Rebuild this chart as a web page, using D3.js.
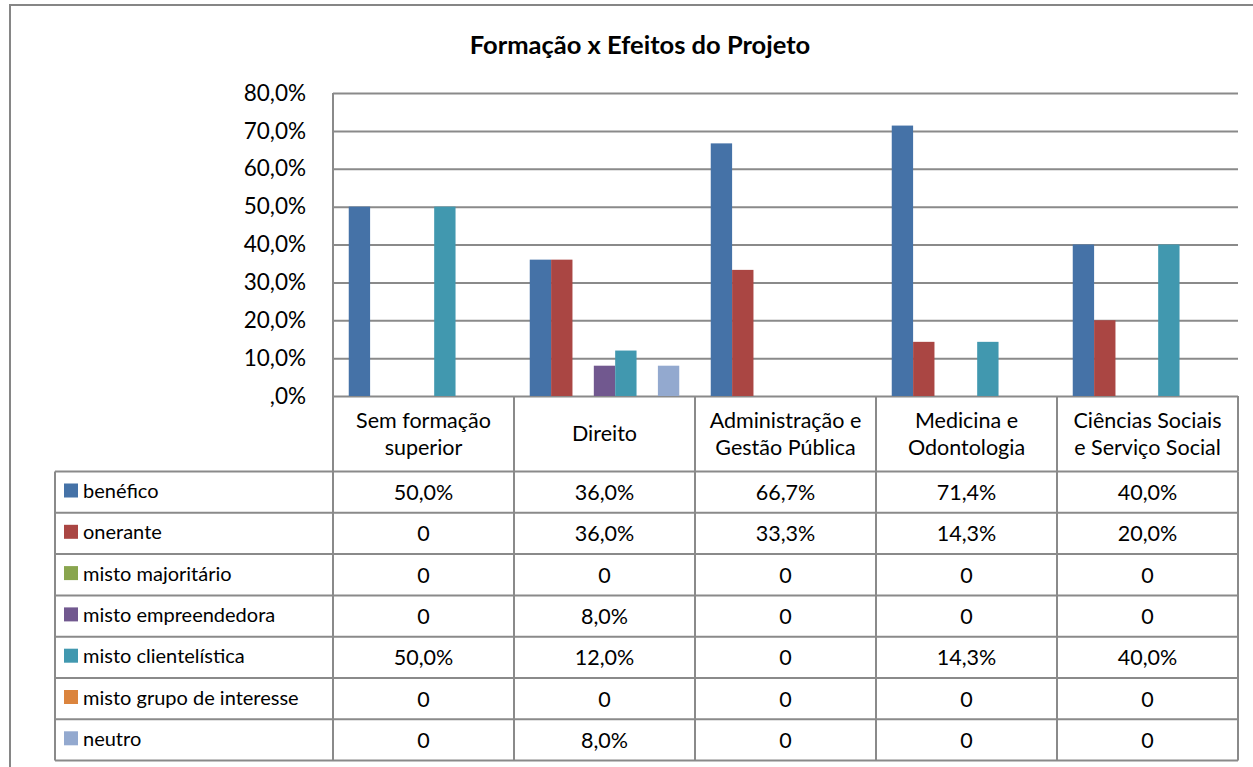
<!DOCTYPE html>
<html>
<head>
<meta charset="utf-8">
<script src="https://cdn.jsdelivr.net/npm/d3@7"></script>
<style>
  body { margin: 0; background: #fff; }
  svg text { font-family: Lato, "Open Sans", sans-serif; fill: #000; }
</style>
</head>
<body>
<div id="chart"></div>
<script>

// dados do gráfico
let categories = ["Sem formação superior", "Direito", "Administração e Gestão Pública", "Medicina e Odontologia", "Ciências Sociais e Serviço Social"];
let categoryLines = [["Sem formação", "superior"], ["Direito"], ["Administração e", "Gestão Pública"], ["Medicina e", "Odontologia"], ["Ciências Sociais", "e Serviço Social"]];
let seriesNames = ["benéfico", "onerante", "misto majoritário", "misto empreendedora", "misto clientelística", "misto grupo de interesse", "neutro"];
let seriesColors = ["#4572a7", "#aa4643", "#89a54e", "#71588f", "#4198af", "#db843d", "#93a9cf"];

let benefico       = [50.0, 36.0, 66.7, 71.4, 40.0];
let onerante       = [0, 36.0, 33.3, 14.3, 20.0];
let majoritario    = [0, 0, 0, 0, 0];
let empreendedora  = [0, 8.0, 0, 0, 0];
let clientelistica = [50.0, 12.0, 0, 14.3, 40.0];
let grupoInteresse = [0, 0, 0, 0, 0];
let neutro         = [0, 8.0, 0, 0, 0];

let seriesValues = [benefico, onerante, majoritario, empreendedora, clientelistica, grupoInteresse, neutro];
let yTicks = [0, 10, 20, 30, 40, 50, 60, 70, 80];

///////////////////////////////////////////////////////////////////////

let width = 1253, height = 767;
let plotLeft = 333, plotRight = 1238, plotTop = 93, plotBottom = 396;
let tableLeft = 55, headerBottom = 471.5, rowH = 41.3;
let lineColor = "#8a8a8a";

let svg = d3.select("#chart")
            .append("svg")
            .attr("width", width)
            .attr("height", height);

// moldura externa
svg.append("rect")
   .attr("x", 10).attr("y", 5)
   .attr("width", width + 20).attr("height", height + 20)
   .attr("fill", "none")
   .attr("stroke", "#868686")
   .attr("stroke-width", 2);

svg.append("text")
   .attr("x", 640).attr("y", 54)
   .attr("text-anchor", "middle")
   .attr("font-size", 25.5)
   .attr("font-weight", "bold")
   .text("Formação x Efeitos do Projeto");

let x = d3.scaleBand().domain(categories).range([plotLeft, plotRight]);
let gap = 31.5;
let xs = d3.scaleBand().domain(seriesNames).range([gap / 2, x.bandwidth() - gap / 2]);
let y = d3.scaleLinear().domain([0, 80]).range([plotBottom, plotTop]);

let fmtPct = v => (v === 0 ? "" : d3.format(".1f")(v).replace(".", ",")) + (v === 0 ? ",0%" : "%");

// eixo y + grade
let yAxis = svg.append("g")
   .attr("transform", `translate(${plotLeft},0)`)
   .call(d3.axisLeft(y).tickValues(yTicks).tickSize(-(plotRight - plotLeft)).tickPadding(27).tickFormat(fmtPct));
yAxis.select(".domain").remove();
yAxis.selectAll(".tick line").attr("stroke", lineColor).attr("stroke-width", 2);
yAxis.selectAll(".tick text").attr("font-size", 22.5).attr("font-family", "Lato, sans-serif").attr("fill", "#000");

svg.append("line")
   .attr("x1", plotLeft).attr("x2", plotLeft)
   .attr("y1", plotTop).attr("y2", plotBottom)
   .attr("stroke", lineColor).attr("stroke-width", 2);

// barras
let bars = [];
seriesValues.forEach((vals, s) => {
  vals.forEach((v, c) => bars.push({ s: s, c: c, v: v }));
});

svg.append("g").selectAll("rect")
   .data(bars.filter(d => d.v > 0))
   .join("rect")
   .attr("x", d => x(categories[d.c]) + xs(seriesNames[d.s]))
   .attr("width", xs.bandwidth())
   .attr("y", d => y(d.v))
   .attr("height", d => y(0) - y(d.v))
   .attr("fill", d => seriesColors[d.s]);

// tabela de dados
let table = svg.append("g");
let colEdges = [tableLeft, plotLeft].concat(categories.map(c => x(c) + x.bandwidth()));
let tableBottom = headerBottom + rowH * seriesNames.length;

// linhas verticais do cabeçalho
categories.forEach(c => {
  [x(c), x(c) + x.bandwidth()].forEach(xx => {
    table.append("line")
      .attr("x1", xx).attr("x2", xx)
      .attr("y1", plotBottom).attr("y2", headerBottom)
      .attr("stroke", lineColor).attr("stroke-width", 2);
  });
});

colEdges.forEach(xx => {
  table.append("line")
    .attr("x1", xx).attr("x2", xx)
    .attr("y1", headerBottom).attr("y2", tableBottom)
    .attr("stroke", lineColor).attr("stroke-width", 2);
});

d3.range(seriesNames.length + 1).forEach(i => {
  table.append("line")
    .attr("x1", tableLeft).attr("x2", plotRight)
    .attr("y1", headerBottom + i * rowH).attr("y2", headerBottom + i * rowH)
    .attr("stroke", lineColor).attr("stroke-width", 2);
});

// rótulos das categorias
categories.forEach((c, i) => {
  let lines = categoryLines[i];
  let cy = (plotBottom + headerBottom) / 2;
  lines.forEach((t, j) => {
    table.append("text")
      .attr("x", x(c) + x.bandwidth() / 2)
      .attr("y", cy + 7.5 + (j - (lines.length - 1) / 2) * 27)
      .attr("text-anchor", "middle")
      .attr("font-size", 21.5)
      .text(t);
  });
});

// legenda e valores
seriesNames.forEach((name, s) => {
  let top = headerBottom + s * rowH;
  table.append("rect")
    .attr("x", 64).attr("y", top + 12)
    .attr("width", 14).attr("height", 14)
    .attr("fill", seriesColors[s]);
  table.append("text")
    .attr("x", 83).attr("y", top + 26.5)
    .attr("font-size", 20)
    .text(name);
  seriesValues[s].forEach((v, c) => {
    table.append("text")
      .attr("x", x(categories[c]) + x.bandwidth() / 2)
      .attr("y", top + 28.5)
      .attr("text-anchor", "middle")
      .attr("font-size", 21.5)
      .text(v === 0 ? "0" : fmtPct(v));
  });
});

</script>
</body>
</html>
